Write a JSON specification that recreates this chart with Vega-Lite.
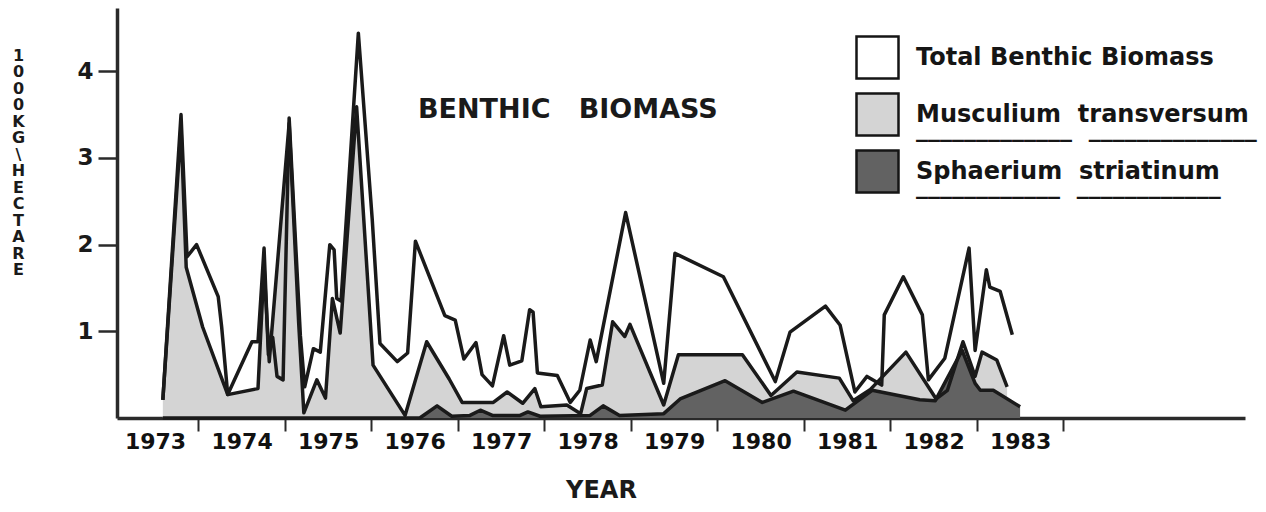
{
  "$schema": "https://vega.github.io/schema/vega-lite/v6.json",
  "width": 1128,
  "height": 410,
  "autosize": {"type": "none"},
  "padding": {"left": 117, "top": 8, "right": 21, "bottom": 94},
  "background": "white",
  "title": {"text": "BENTHIC\u00a0\u00a0 BIOMASS", "anchor": "start", "frame": "group", "offset": 0, "dx": 301, "dy": 137, "baseline": "alphabetic", "font": "DejaVu Sans", "fontWeight": "bold", "fontSize": 27, "color": "#1a1a1a"},
  "config": {
    "view": {"stroke": null},
    "style": {"guide-label": {"lineHeight": 14}}
  },
  "data": {"values": [
    {"series": "Total Benthic Biomass", "year": 1973.59, "value": 0.21},
    {"series": "Total Benthic Biomass", "year": 1973.80, "value": 3.50},
    {"series": "Total Benthic Biomass", "year": 1973.87, "value": 1.86},
    {"series": "Total Benthic Biomass", "year": 1973.98, "value": 2.00},
    {"series": "Total Benthic Biomass", "year": 1974.23, "value": 1.40},
    {"series": "Total Benthic Biomass", "year": 1974.27, "value": 1.05},
    {"series": "Total Benthic Biomass", "year": 1974.34, "value": 0.27},
    {"series": "Total Benthic Biomass", "year": 1974.62, "value": 0.88},
    {"series": "Total Benthic Biomass", "year": 1974.69, "value": 0.88},
    {"series": "Total Benthic Biomass", "year": 1974.76, "value": 1.96},
    {"series": "Total Benthic Biomass", "year": 1974.81, "value": 0.73},
    {"series": "Total Benthic Biomass", "year": 1974.86, "value": 0.93},
    {"series": "Total Benthic Biomass", "year": 1974.91, "value": 0.48},
    {"series": "Total Benthic Biomass", "year": 1974.98, "value": 0.44},
    {"series": "Total Benthic Biomass", "year": 1975.05, "value": 3.46},
    {"series": "Total Benthic Biomass", "year": 1975.18, "value": 0.95},
    {"series": "Total Benthic Biomass", "year": 1975.23, "value": 0.36},
    {"series": "Total Benthic Biomass", "year": 1975.33, "value": 0.80},
    {"series": "Total Benthic Biomass", "year": 1975.41, "value": 0.76},
    {"series": "Total Benthic Biomass", "year": 1975.52, "value": 2.00},
    {"series": "Total Benthic Biomass", "year": 1975.57, "value": 1.94},
    {"series": "Total Benthic Biomass", "year": 1975.60, "value": 1.38},
    {"series": "Total Benthic Biomass", "year": 1975.65, "value": 1.35},
    {"series": "Total Benthic Biomass", "year": 1975.85, "value": 4.44},
    {"series": "Total Benthic Biomass", "year": 1976.01, "value": 2.30},
    {"series": "Total Benthic Biomass", "year": 1976.10, "value": 0.86},
    {"series": "Total Benthic Biomass", "year": 1976.30, "value": 0.65},
    {"series": "Total Benthic Biomass", "year": 1976.42, "value": 0.75},
    {"series": "Total Benthic Biomass", "year": 1976.51, "value": 2.04},
    {"series": "Total Benthic Biomass", "year": 1976.85, "value": 1.18},
    {"series": "Total Benthic Biomass", "year": 1976.97, "value": 1.13},
    {"series": "Total Benthic Biomass", "year": 1977.07, "value": 0.68},
    {"series": "Total Benthic Biomass", "year": 1977.21, "value": 0.87},
    {"series": "Total Benthic Biomass", "year": 1977.28, "value": 0.50},
    {"series": "Total Benthic Biomass", "year": 1977.40, "value": 0.37},
    {"series": "Total Benthic Biomass", "year": 1977.53, "value": 0.95},
    {"series": "Total Benthic Biomass", "year": 1977.60, "value": 0.61},
    {"series": "Total Benthic Biomass", "year": 1977.74, "value": 0.66},
    {"series": "Total Benthic Biomass", "year": 1977.83, "value": 1.25},
    {"series": "Total Benthic Biomass", "year": 1977.87, "value": 1.22},
    {"series": "Total Benthic Biomass", "year": 1977.92, "value": 0.52},
    {"series": "Total Benthic Biomass", "year": 1978.15, "value": 0.49},
    {"series": "Total Benthic Biomass", "year": 1978.30, "value": 0.18},
    {"series": "Total Benthic Biomass", "year": 1978.41, "value": 0.32},
    {"series": "Total Benthic Biomass", "year": 1978.53, "value": 0.90},
    {"series": "Total Benthic Biomass", "year": 1978.60, "value": 0.65},
    {"series": "Total Benthic Biomass", "year": 1978.94, "value": 2.37},
    {"series": "Total Benthic Biomass", "year": 1979.38, "value": 0.40},
    {"series": "Total Benthic Biomass", "year": 1979.51, "value": 1.90},
    {"series": "Total Benthic Biomass", "year": 1980.07, "value": 1.63},
    {"series": "Total Benthic Biomass", "year": 1980.67, "value": 0.42},
    {"series": "Total Benthic Biomass", "year": 1980.84, "value": 0.99},
    {"series": "Total Benthic Biomass", "year": 1981.25, "value": 1.29},
    {"series": "Total Benthic Biomass", "year": 1981.42, "value": 1.07},
    {"series": "Total Benthic Biomass", "year": 1981.59, "value": 0.30},
    {"series": "Total Benthic Biomass", "year": 1981.73, "value": 0.48},
    {"series": "Total Benthic Biomass", "year": 1981.90, "value": 0.38},
    {"series": "Total Benthic Biomass", "year": 1981.93, "value": 1.19},
    {"series": "Total Benthic Biomass", "year": 1982.15, "value": 1.63},
    {"series": "Total Benthic Biomass", "year": 1982.37, "value": 1.19},
    {"series": "Total Benthic Biomass", "year": 1982.44, "value": 0.44},
    {"series": "Total Benthic Biomass", "year": 1982.63, "value": 0.69},
    {"series": "Total Benthic Biomass", "year": 1982.91, "value": 1.96},
    {"series": "Total Benthic Biomass", "year": 1982.98, "value": 0.78},
    {"series": "Total Benthic Biomass", "year": 1983.11, "value": 1.71},
    {"series": "Total Benthic Biomass", "year": 1983.15, "value": 1.51},
    {"series": "Total Benthic Biomass", "year": 1983.27, "value": 1.46},
    {"series": "Total Benthic Biomass", "year": 1983.41, "value": 0.96},

    {"series": "Musculium transversum", "year": 1973.59, "value": 0.21},
    {"series": "Musculium transversum", "year": 1973.80, "value": 3.35},
    {"series": "Musculium transversum", "year": 1973.86, "value": 1.74},
    {"series": "Musculium transversum", "year": 1974.05, "value": 1.05},
    {"series": "Musculium transversum", "year": 1974.34, "value": 0.27},
    {"series": "Musculium transversum", "year": 1974.69, "value": 0.34},
    {"series": "Musculium transversum", "year": 1974.76, "value": 1.75},
    {"series": "Musculium transversum", "year": 1974.82, "value": 0.65},
    {"series": "Musculium transversum", "year": 1975.05, "value": 3.40},
    {"series": "Musculium transversum", "year": 1975.16, "value": 1.10},
    {"series": "Musculium transversum", "year": 1975.22, "value": 0.06},
    {"series": "Musculium transversum", "year": 1975.37, "value": 0.44},
    {"series": "Musculium transversum", "year": 1975.47, "value": 0.23},
    {"series": "Musculium transversum", "year": 1975.55, "value": 1.38},
    {"series": "Musculium transversum", "year": 1975.64, "value": 0.98},
    {"series": "Musculium transversum", "year": 1975.83, "value": 3.59},
    {"series": "Musculium transversum", "year": 1976.02, "value": 0.61},
    {"series": "Musculium transversum", "year": 1976.39, "value": 0.03},
    {"series": "Musculium transversum", "year": 1976.64, "value": 0.88},
    {"series": "Musculium transversum", "year": 1976.90, "value": 0.45},
    {"series": "Musculium transversum", "year": 1977.05, "value": 0.18},
    {"series": "Musculium transversum", "year": 1977.41, "value": 0.18},
    {"series": "Musculium transversum", "year": 1977.57, "value": 0.30},
    {"series": "Musculium transversum", "year": 1977.75, "value": 0.17},
    {"series": "Musculium transversum", "year": 1977.89, "value": 0.34},
    {"series": "Musculium transversum", "year": 1977.96, "value": 0.13},
    {"series": "Musculium transversum", "year": 1978.26, "value": 0.15},
    {"series": "Musculium transversum", "year": 1978.42, "value": 0.05},
    {"series": "Musculium transversum", "year": 1978.49, "value": 0.34},
    {"series": "Musculium transversum", "year": 1978.67, "value": 0.38},
    {"series": "Musculium transversum", "year": 1978.79, "value": 1.11},
    {"series": "Musculium transversum", "year": 1978.93, "value": 0.94},
    {"series": "Musculium transversum", "year": 1978.99, "value": 1.08},
    {"series": "Musculium transversum", "year": 1979.38, "value": 0.15},
    {"series": "Musculium transversum", "year": 1979.55, "value": 0.73},
    {"series": "Musculium transversum", "year": 1980.29, "value": 0.73},
    {"series": "Musculium transversum", "year": 1980.62, "value": 0.26},
    {"series": "Musculium transversum", "year": 1980.92, "value": 0.53},
    {"series": "Musculium transversum", "year": 1981.41, "value": 0.46},
    {"series": "Musculium transversum", "year": 1981.57, "value": 0.20},
    {"series": "Musculium transversum", "year": 1981.77, "value": 0.33},
    {"series": "Musculium transversum", "year": 1982.18, "value": 0.76},
    {"series": "Musculium transversum", "year": 1982.53, "value": 0.22},
    {"series": "Musculium transversum", "year": 1982.66, "value": 0.32},
    {"series": "Musculium transversum", "year": 1982.84, "value": 0.88},
    {"series": "Musculium transversum", "year": 1982.98, "value": 0.48},
    {"series": "Musculium transversum", "year": 1983.06, "value": 0.76},
    {"series": "Musculium transversum", "year": 1983.23, "value": 0.67},
    {"series": "Musculium transversum", "year": 1983.35, "value": 0.36},

    {"series": "Sphaerium striatinum", "year": 1973.59, "value": 0.0},
    {"series": "Sphaerium striatinum", "year": 1976.56, "value": 0.0},
    {"series": "Sphaerium striatinum", "year": 1976.76, "value": 0.14},
    {"series": "Sphaerium striatinum", "year": 1976.93, "value": 0.02},
    {"series": "Sphaerium striatinum", "year": 1977.14, "value": 0.03},
    {"series": "Sphaerium striatinum", "year": 1977.26, "value": 0.09},
    {"series": "Sphaerium striatinum", "year": 1977.40, "value": 0.03},
    {"series": "Sphaerium striatinum", "year": 1977.72, "value": 0.03},
    {"series": "Sphaerium striatinum", "year": 1977.81, "value": 0.07},
    {"series": "Sphaerium striatinum", "year": 1977.95, "value": 0.02},
    {"series": "Sphaerium striatinum", "year": 1978.53, "value": 0.03},
    {"series": "Sphaerium striatinum", "year": 1978.68, "value": 0.14},
    {"series": "Sphaerium striatinum", "year": 1978.87, "value": 0.03},
    {"series": "Sphaerium striatinum", "year": 1979.38, "value": 0.05},
    {"series": "Sphaerium striatinum", "year": 1979.57, "value": 0.22},
    {"series": "Sphaerium striatinum", "year": 1980.09, "value": 0.43},
    {"series": "Sphaerium striatinum", "year": 1980.52, "value": 0.18},
    {"series": "Sphaerium striatinum", "year": 1980.88, "value": 0.31},
    {"series": "Sphaerium striatinum", "year": 1981.48, "value": 0.09},
    {"series": "Sphaerium striatinum", "year": 1981.79, "value": 0.32},
    {"series": "Sphaerium striatinum", "year": 1982.34, "value": 0.21},
    {"series": "Sphaerium striatinum", "year": 1982.52, "value": 0.20},
    {"series": "Sphaerium striatinum", "year": 1982.83, "value": 0.78},
    {"series": "Sphaerium striatinum", "year": 1982.98, "value": 0.40},
    {"series": "Sphaerium striatinum", "year": 1983.04, "value": 0.32},
    {"series": "Sphaerium striatinum", "year": 1983.19, "value": 0.32},
    {"series": "Sphaerium striatinum", "year": 1983.50, "value": 0.13}
  ]},
  "encoding": {
    "x": {
      "field": "year", "type": "quantitative",
      "scale": {"domain": [1973.06, 1986.1], "nice": false, "zero": false},
      "axis": {
        "values": [1973.5, 1974, 1974.5, 1975, 1975.5, 1976, 1976.5, 1977, 1977.5, 1978, 1978.5, 1979, 1979.5, 1980, 1980.5, 1981, 1981.5, 1982, 1982.5, 1983, 1983.5, 1984],
        "labelExpr": "datum.value % 1 != 0 ? '' + floor(datum.value) : ''",
        "tickOpacity": {"condition": {"test": "datum.value % 1 == 0", "value": 1}, "value": 0},
        "grid": false,
        "domainColor": "#2a2a2a", "domainWidth": 3.5,
        "tickColor": "#2a2a2a", "tickWidth": 2, "tickSize": 13,
        "labelFont": "DejaVu Sans", "labelFontWeight": "bold", "labelFontSize": 22, "labelColor": "#111",
        "labelBaseline": "top", "labelPadding": 0, "labelFlush": false, "labelOverlap": false,
        "title": "YEAR", "titleFont": "DejaVu Sans", "titleFontWeight": "bold", "titleFontSize": 24, "titleColor": "#1a1a1a",
        "titleX": 484, "titleY": 79, "titleAlign": "center", "titleBaseline": "alphabetic"
      }
    },
    "y": {
      "field": "value", "type": "quantitative", "stack": null,
      "scale": {"domain": [0, 4.73], "nice": false},
      "axis": {
        "values": [1, 2, 3, 4],
        "grid": false,
        "domainColor": "#2a2a2a", "domainWidth": 3.5,
        "tickColor": "#2a2a2a", "tickWidth": 2.5, "tickSize": 19,
        "labelFont": "DejaVu Sans", "labelFontWeight": "bold", "labelFontSize": 23, "labelColor": "#1a1a1a", "labelPadding": 5,
        "title": ["1", "0", "0", "0", "", "", "K", "G", "\\", "H", "E", "C", "T", "A", "R", "E"],
        "titleAngle": 0, "titleFont": "DejaVu Sans", "titleFontWeight": "bold", "titleFontSize": 16, "titleColor": "#1a1a1a",
        "titleLineHeight": 16.5, "titleX": -99, "titleY": 52, "titleAlign": "center", "titleBaseline": "alphabetic"
      }
    }
  },
  "layer": [
    {
      "transform": [{"filter": "datum.series === 'Musculium transversum'"}],
      "mark": {"type": "area", "opacity": 1, "interpolate": "linear"},
      "encoding": {
        "fill": {
          "field": "series", "type": "nominal",
          "scale": {"domain": ["Total Benthic Biomass", "Musculium transversum", "Sphaerium striatinum"], "range": ["#ffffff", "#d4d4d4", "#626262"]},
          "legend": {
            "title": null, "orient": "none", "legendX": 738, "legendY": 27, "padding": 0,
            "symbolType": "square", "symbolSize": 1764, "symbolStrokeColor": "#151515", "symbolStrokeWidth": 2.5, "symbolOpacity": 1,
            "labelFont": "DejaVu Sans", "labelFontWeight": "bold", "labelFontSize": 24, "labelColor": "#151515",
            "labelOffset": 16, "rowPadding": 4, "labelLimit": 0, "labelBaseline": "middle",
            "labelExpr": "datum.label == 'Musculium transversum' ? ['Musculium\u00a0\u00a0transversum', '_____________\u00a0\u00a0______________'] : datum.label == 'Sphaerium striatinum' ? ['Sphaerium\u00a0\u00a0striatinum', '____________\u00a0\u00a0____________'] : datum.label"
          }
        }
      }
    },
    {
      "transform": [{"filter": "datum.series === 'Sphaerium striatinum'"}],
      "mark": {"type": "area", "opacity": 1, "interpolate": "linear"},
      "encoding": {
        "fill": {
          "field": "series", "type": "nominal",
          "scale": {"domain": ["Total Benthic Biomass", "Musculium transversum", "Sphaerium striatinum"], "range": ["#ffffff", "#d4d4d4", "#626262"]},
          "legend": {
            "title": null, "orient": "none", "legendX": 738, "legendY": 27, "padding": 0,
            "symbolType": "square", "symbolSize": 1764, "symbolStrokeColor": "#151515", "symbolStrokeWidth": 2.5, "symbolOpacity": 1,
            "labelFont": "DejaVu Sans", "labelFontWeight": "bold", "labelFontSize": 24, "labelColor": "#151515",
            "labelOffset": 16, "rowPadding": 4, "labelLimit": 0, "labelBaseline": "middle",
            "labelExpr": "datum.label == 'Musculium transversum' ? ['Musculium\u00a0\u00a0transversum', '_____________\u00a0\u00a0______________'] : datum.label == 'Sphaerium striatinum' ? ['Sphaerium\u00a0\u00a0striatinum', '____________\u00a0\u00a0____________'] : datum.label"
          }
        }
      }
    },
    {
      "mark": {"type": "line", "color": "#1a1a1a", "strokeWidth": 3.5, "interpolate": "linear", "strokeJoin": "round"},
      "encoding": {"detail": {"field": "series", "type": "nominal"}}
    }
  ]
}
